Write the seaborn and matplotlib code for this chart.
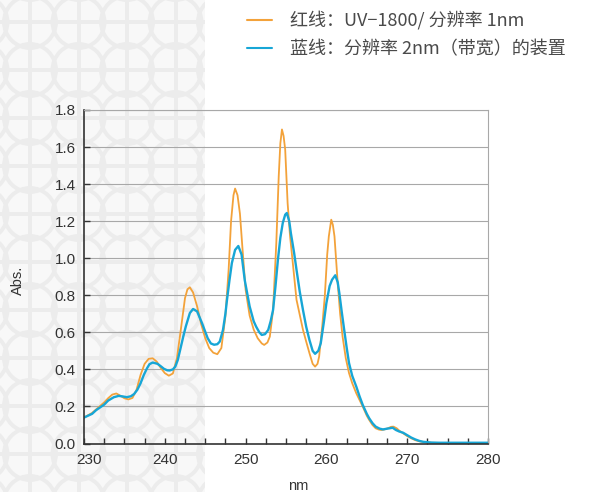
import matplotlib
matplotlib.use("Agg")
import matplotlib.pyplot as plt
import matplotlib.transforms as mtransforms
from matplotlib.patches import Circle, Rectangle
from matplotlib.ticker import MultipleLocator, FormatStrFormatter
import numpy as np
import pandas as pd
import seaborn as sns

# 红线 (UV-1800, 1nm)
nm_red = [230.0, 231.0, 232.0, 232.5, 233.0, 233.5, 234.0, 234.5, 235.0, 235.5,
          236.0, 236.5, 237.0, 237.5, 238.0, 238.5, 239.0, 239.5, 240.0, 240.5,
          241.0, 241.5, 242.0, 242.5, 242.8, 243.1, 243.5, 244.0, 244.5, 245.0,
          245.5, 246.0, 246.5, 247.0, 247.5, 247.9, 248.2, 248.5, 248.7, 249.0,
          249.3, 249.6, 250.0, 250.5, 251.0, 251.5, 252.0, 252.3, 252.7, 253.0,
          253.4, 253.8, 254.1, 254.3, 254.5, 254.7, 254.9, 255.2, 255.5, 255.8,
          256.3, 257.1, 257.5, 257.9, 258.3, 258.6, 258.9, 259.1, 259.5, 259.8,
          260.1, 260.3, 260.6, 260.8, 261.0, 261.4, 261.7, 262.0, 262.4, 262.8,
          263.2, 263.7, 264.1, 264.5, 265.0, 265.3, 265.7, 266.1, 266.5, 266.8,
          267.2, 267.6, 268.0, 268.3, 268.7, 269.0, 269.5, 270.0, 270.5, 271.0,
          271.5, 272.0, 273.0, 274.0, 276.0, 278.0, 280.0]
abs_red = [0.140, 0.165, 0.203, 0.222, 0.245, 0.264, 0.270, 0.258, 0.244, 0.238,
           0.246, 0.290, 0.370, 0.430, 0.457, 0.460, 0.442, 0.408, 0.380, 0.366,
           0.378, 0.460, 0.620, 0.785, 0.832, 0.843, 0.815, 0.740, 0.645, 0.569,
           0.515, 0.490, 0.482, 0.515, 0.686, 0.938, 1.200, 1.340, 1.376, 1.340,
           1.240, 1.060, 0.830, 0.690, 0.615, 0.568, 0.540, 0.532, 0.545, 0.577,
           0.721, 1.082, 1.442, 1.620, 1.695, 1.660, 1.586, 1.298, 1.120, 0.992,
           0.776, 0.614, 0.550, 0.488, 0.430, 0.415, 0.430, 0.469, 0.640, 0.794,
           1.020, 1.118, 1.208, 1.180, 1.118, 0.866, 0.700, 0.578, 0.460, 0.380,
           0.325, 0.271, 0.235, 0.199, 0.150, 0.127, 0.100, 0.082, 0.075, 0.073,
           0.076, 0.082, 0.090, 0.091, 0.082, 0.070, 0.055, 0.040, 0.028, 0.018,
           0.012, 0.008, 0.004, 0.003, 0.003, 0.003, 0.003]

# 蓝线 (2nm 带宽)
nm_blue = [230.0, 231.0, 231.5, 232.0, 232.5, 233.0, 233.7, 234.3, 234.8, 235.3,
           235.8, 236.2, 236.6, 237.0, 237.4, 237.8, 238.1, 238.5, 239.1, 239.5,
           239.9, 240.3, 240.6, 241.0, 241.3, 241.6, 241.9, 242.3, 242.6, 243.1,
           243.5, 244.0, 244.6, 245.3, 245.7, 246.1, 246.5, 246.8, 247.2, 247.5,
           247.7, 248.0, 248.3, 248.7, 249.1, 249.5, 249.9, 250.5, 251.0, 251.3,
           251.7, 252.0, 252.4, 252.8, 253.1, 253.4, 253.7, 254.0, 254.3, 254.6,
           254.9, 255.1, 255.4, 255.6, 256.0, 256.3, 256.7, 257.1, 257.5, 257.9,
           258.3, 258.6, 259.0, 259.3, 259.7, 260.0, 260.4, 260.7, 261.1, 261.4,
           261.6, 261.9, 262.2, 262.5, 262.8, 263.2, 263.7, 264.1, 264.5, 265.0,
           265.3, 265.7, 266.1, 266.6, 267.0, 267.5, 267.8, 268.2, 268.6, 269.0,
           269.5, 270.0, 270.5, 271.0, 271.5, 272.0, 273.0, 274.0, 276.0, 278.0,
           280.0]
abs_blue = [0.140, 0.160, 0.180, 0.195, 0.210, 0.232, 0.250, 0.257, 0.254, 0.250,
            0.255, 0.267, 0.290, 0.325, 0.370, 0.406, 0.428, 0.437, 0.430, 0.417,
            0.403, 0.395, 0.394, 0.400, 0.415, 0.450, 0.505, 0.580, 0.632, 0.704,
            0.726, 0.713, 0.650, 0.569, 0.540, 0.533, 0.536, 0.550, 0.613, 0.700,
            0.776, 0.880, 0.974, 1.045, 1.066, 1.020, 0.880, 0.740, 0.660, 0.631,
            0.600, 0.586, 0.590, 0.613, 0.660, 0.721, 0.850, 0.992, 1.110, 1.190,
            1.235, 1.244, 1.200, 1.136, 1.030, 0.938, 0.820, 0.721, 0.630, 0.559,
            0.500, 0.484, 0.500, 0.541, 0.660, 0.758, 0.850, 0.884, 0.908, 0.870,
            0.812, 0.710, 0.614, 0.520, 0.434, 0.365, 0.307, 0.255, 0.208, 0.160,
            0.136, 0.110, 0.091, 0.080, 0.076, 0.080, 0.082, 0.085, 0.073, 0.065,
            0.058, 0.045, 0.032, 0.022, 0.014, 0.009, 0.005, 0.004, 0.004, 0.004,
            0.004]

labels = ["红线：UV−1800/ 分辨率 1nm", "蓝线：分辨率 2nm（带宽）的装置"]
colors = ["#F3A23A", "#17A6D6"]

x_ticks = [230, 240, 250, 260, 270, 280]
y_ticks = [0.0, 0.2, 0.4, 0.6, 0.8, 1.0, 1.2, 1.4, 1.6, 1.8]

df = pd.concat([
    pd.DataFrame({"nm": nm_red, "Abs.": abs_red, "series": labels[0]}),
    pd.DataFrame({"nm": nm_blue, "Abs.": abs_blue, "series": labels[1]}),
], ignore_index=True)

sns.set_style("ticks")
plt.rcParams["font.family"] = ["Liberation Sans", "DejaVu Sans"]

W, H = 591, 492
fig = plt.figure(figsize=(W / 100, H / 100), dpi=100)
fig.patch.set_facecolor("white")

# decorative lattice background on the left
pat = "#ececec"
bg = fig.add_axes([0, 0, 1, 1], zorder=-1)
bg.set_xlim(0, W)
bg.set_ylim(H, 0)
bg.axis("off")
clip = Rectangle((0, 0), 205, H, transform=bg.transData)
bg.add_patch(Rectangle((0, 0), 205, H, color="#f8f8f8", lw=0))
for cx in np.arange(30 - 48.5, 240, 48.5):
    ln = bg.axvline(cx, color=pat, lw=2.8)
    ln.set_clip_path(clip)
    for cy in np.arange(22 - 48, H + 48, 48):
        c = Circle((cx, cy), 26, fill=False, ec=pat, lw=2.8)
        bg.add_patch(c)
        c.set_clip_path(clip)
for cy in np.arange(22 - 48, H + 48, 48):
    ln = bg.axhline(cy, color=pat, lw=2.8)
    ln.set_clip_path(clip)

ax = fig.add_axes([84 / W, 1 - 443.5 / H, 404 / W, 333.5 / H], zorder=1)
ax.set_facecolor("none")

sns.lineplot(data=df, x="nm", y="Abs.", hue="series", palette=colors,
             estimator=None, linewidth=1.5, ax=ax)
ax.lines[0].set_linewidth(1.3)
ax.lines[1].set_linewidth(1.7)

ax.set_xlim(230, 280)
ax.set_ylim(0, 1.8)
ax.set_xticks(x_ticks)
ax.set_yticks(y_ticks)
ax.xaxis.set_minor_locator(MultipleLocator(2.5))
ax.yaxis.set_major_formatter(FormatStrFormatter("%.1f"))
ax.tick_params(axis="both", which="both", direction="in", color="#333333",
               labelsize=11, labelcolor="#333333")
ax.tick_params(axis="x", which="major", length=4, width=1, pad=7)
ax.tick_params(axis="x", which="minor", length=4, width=1)
ax.tick_params(axis="y", which="major", length=4, width=1, pad=6)

# nudge the first x label to the right, away from 0.0
lbl0 = ax.get_xticklabels()[0]
lbl0.set_transform(lbl0.get_transform() +
                   mtransforms.ScaledTranslation(5 / 100, 0, fig.dpi_scale_trans))

ax.grid(axis="y", color="#a8a8a8", linewidth=0.8)
ax.set_axisbelow(True)
for s in ["left", "bottom"]:
    ax.spines[s].set_color("#333333")
    ax.spines[s].set_linewidth(1.2)
for s in ["top", "right"]:
    ax.spines[s].set_color("#a8a8a8")
    ax.spines[s].set_linewidth(0.8)

ax.set_xlabel("nm", fontsize=10.5, color="#333333")
ax.set_ylabel("Abs.", fontsize=10.5, color="#333333")
ax.xaxis.set_label_coords(0.53, -0.105)
ax.yaxis.set_label_coords(-0.145, 0.49)

handles, leg_labels = ax.get_legend_handles_labels()
ax.get_legend().remove()
leg = fig.legend(handles, leg_labels, loc="upper left",
                 bbox_to_anchor=(247 / W, 1 - 11 / H), frameon=False,
                 borderpad=0, borderaxespad=0, handlelength=1.4,
                 handletextpad=1.0, labelspacing=0.55,
                 prop={"family": ["Noto Sans CJK SC", "DejaVu Sans"], "size": 13})
for t in leg.get_texts():
    t.set_color("#4a4a4a")

fig.savefig("out.png", dpi=100)
